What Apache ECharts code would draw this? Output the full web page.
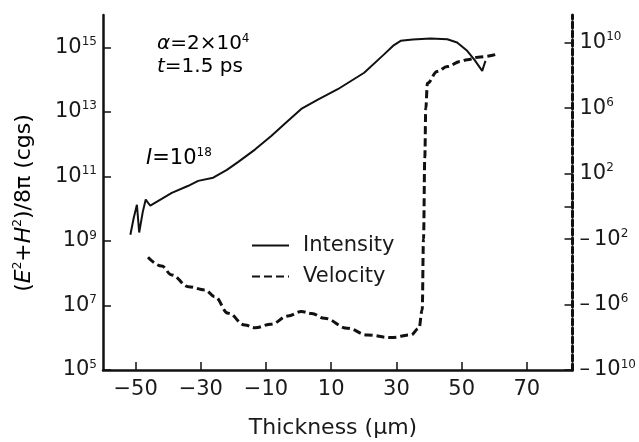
<!DOCTYPE html>
<html><head><meta charset="utf-8">
<script src="https://cdn.jsdelivr.net/npm/echarts@6/dist/echarts.min.js"></script>
<style>html,body{margin:0;padding:0;background:#fff}#c{width:639px;height:442px}</style>
</head><body><div id="c"></div>
<script>
// Intensity (E^2+H^2)/8pi, stored as log10 of the value in cgs
const intensityThickness = [-51.6, -50.6, -49.6, -48.9, -47.8, -46.9, -45.5, -42, -38.9, -34, -30.8, -26.2, -22, -18.5, -13.4, -8.4, -4, 0.8, 5.9, 12.0, 20.1, 26.2, 29, 31.3, 35, 40.5, 45.6, 48.6, 51.7, 54, 56.3, 57.3];
const intensityLog10 = [9.19, 9.7, 10.12, 9.26, 9.9, 10.28, 10.09, 10.3, 10.49, 10.7, 10.86, 10.96, 11.2, 11.45, 11.83, 12.25, 12.65, 13.09, 13.38, 13.70, 14.21, 14.78, 15.05, 15.20, 15.24, 15.27, 15.25, 15.15, 14.89, 14.6, 14.27, 14.58];
// Velocity, stored as sign(v)*log10(|v|)
const velocityThickness = [-46.2, -42, -38.9, -33.8, -28.7, -25.7, -21.6, -16.5, -13.4, -8.4, -3.3, 0.8, 4, 7.9, 15.0, 21.1, 28.3, 34.4, 36.9, 37.9, 38.3, 38.7, 39.0, 39.5, 42.5, 45.6, 49.6, 51.7, 55, 60.3];
const velocitySignedLog10 = [-3.11, -3.65, -4.19, -4.91, -5.11, -5.52, -6.53, -7.25, -7.42, -7.2, -6.7, -6.43, -6.55, -6.84, -7.45, -7.86, -8.02, -7.86, -7.45, -6.33, -2, 3, 6, 7.53, 8.25, 8.55, 8.86, 8.96, 9.12, 9.28];

const xTickValues = [-50, -30, -10, 10, 30, 50, 70];
const leftTickExponents = [5, 7, 9, 11, 13, 15];
const rightLabelExponents = [-10, -6, -2, 2, 6, 10];
const rightTickExponents = [-10, -6, -2, 0, 2, 6, 10];
const seriesNames = ['Intensity', 'Velocity'];

const FONT = 'DejaVu Sans, Liberation Sans, Arial, sans-serif';
const TXT = '#1a1a1a';
function rich(fs) {
  return {
    b: {fontSize: fs, fontFamily: FONT, color: TXT, lineHeight: fs + 2},
    m: {fontSize: fs, fontFamily: FONT, color: TXT, lineHeight: fs + 2, padding: [0, 4, 0, 0]},
    s: {fontSize: 12, fontFamily: FONT, color: TXT, lineHeight: 12, verticalAlign: 'top'},
    i: {fontSize: fs, fontFamily: FONT, color: TXT, lineHeight: fs + 2, fontStyle: 'italic'}
  };
}
const supRich = rich(21);
const titleRich = rich(22);

const chart = echarts.init(document.getElementById('c'), null, {renderer: 'canvas'});
const zip = (a, b) => a.map((v, k) => [v, b[k]]);

chart.setOption({
  animation: false,
  backgroundColor: '#fff',
  grid: {left: 103, right: 63, top: 15, bottom: 72, containLabel: false},
  legend: {
    orient: 'vertical', left: 246, top: 230, itemWidth: 37, itemHeight: 14, itemGap: 10,
    data: seriesNames,
    itemStyle: {opacity: 0},
    textStyle: {fontSize: 21, fontFamily: FONT, color: TXT, lineHeight: 21, padding: [0, 0, 0, 9]}
  },
  xAxis: {
    type: 'value', min: -60, max: 84,
    axisLine: {onZero: false, lineStyle: {color: '#111', width: 2.5}},
    axisTick: {inside: true, length: 8, customValues: xTickValues, lineStyle: {color: '#111', width: 1.5}},
    axisLabel: {customValues: xTickValues, margin: 9, fontSize: 21, fontFamily: FONT, color: TXT,
      formatter: v => (v < 0 ? '\u2212' + Math.abs(v) : String(v))},
    splitLine: {show: false}
  },
  yAxis: [{
    type: 'value', min: 5, max: 16, position: 'left',
    axisLine: {show: true, onZero: false, lineStyle: {color: '#111', width: 2.5}},
    axisTick: {show: true, inside: true, length: 8, customValues: leftTickExponents, lineStyle: {color: '#111', width: 1.5}},
    axisLabel: {customValues: leftTickExponents, margin: 6,
      formatter: v => '{b|10}{s|' + v + '}', rich: supRich},
    splitLine: {show: false}
  }, {
    type: 'value', min: -10, max: 11.7, position: 'right',
    axisLine: {show: true, onZero: false, lineStyle: {color: '#111', width: 3, type: [6, 3]}},
    axisTick: {show: true, inside: true, length: 8, customValues: rightTickExponents, lineStyle: {color: '#111', width: 1.5}},
    axisLabel: {customValues: rightLabelExponents, margin: 7,
      formatter: v => (v < 0 ? '{m|\u2013}{b|10}{s|' + Math.abs(v) + '}' : '{b|10}{s|' + v + '}'), rich: supRich},
    splitLine: {show: false}
  }],
  series: [{
    name: seriesNames[0], type: 'line', yAxisIndex: 0, symbol: 'none', smooth: false,
    data: zip(intensityThickness, intensityLog10),
    lineStyle: {color: '#111', width: 2}, itemStyle: {color: '#111'}
  }, {
    name: seriesNames[1], type: 'line', yAxisIndex: 1, symbol: 'none', smooth: 0.4, smoothMonotone: 'x',
    data: zip(velocityThickness, velocitySignedLog10),
    lineStyle: {color: '#111', width: 3, type: [8, 4]}, itemStyle: {color: '#111'}
  }],
  graphic: [
    {type: 'text', left: 157, top: 33, style: {text: '{i|\u03b1}{b|=2\u00d710}{s|4}', rich: rich(20)}},
    {type: 'text', left: 157, top: 57, style: {text: '{i|t}{b|=1.5 ps}', rich: rich(20)}},
    {type: 'text', left: 146, top: 147, style: {text: '{i|I}{b|=10}{s|18}', rich: rich(21)}},
    {type: 'text', x: 333, y: 428, style: {text: 'Thickness (\u03bcm)', font: '22px ' + FONT, fill: TXT, align: 'center', verticalAlign: 'middle'}},
    {type: 'text', x: 24, y: 203, rotation: Math.PI / 2,
      style: {text: '{b|(}{i|E}{s|2}{b|+}{i|H}{s|2}{b|)/8\u03c0 (cgs)}', rich: titleRich, align: 'center', verticalAlign: 'middle'}}
  ]
});
</script>
</body></html>
